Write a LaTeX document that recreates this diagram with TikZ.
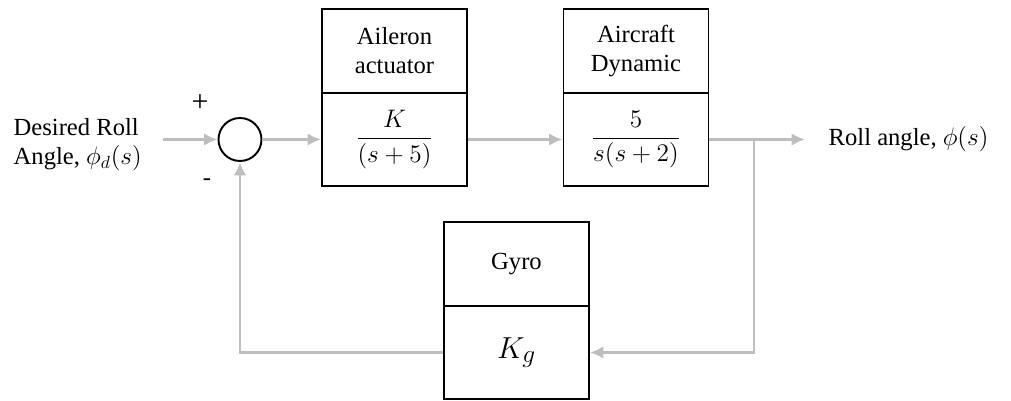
\documentclass[tikz,border=0pt]{standalone}
\usepackage{amsmath}
\usepackage{fontspec}
\setmainfont{Liberation Serif}
\usetikzlibrary{arrows.meta,positioning}
\definecolor{linegray}{RGB}{190,190,190}
\tikzset{
  every node/.style={font=\fontsize{14}{16.5}\selectfont},
  namebox/.style={draw, line width=1.1pt, minimum width=2.9cm, minimum height=1.68cm, align=center, inner sep=0pt},
  tfbox/.style={draw, line width=1.1pt, minimum width=2.9cm, minimum height=1.86cm, inner sep=0pt},
  sumnode/.style={draw, circle, line width=1.1pt, minimum size=0.86cm, inner sep=0pt},
  signal/.style={draw=linegray, line width=1.7pt, -{Latex[length=0.27cm,width=0.25cm]}},
}
\begin{document}
\begin{tikzpicture}
\useasboundingbox (0,0) rectangle (20.22,8.02);

% Forward path blocks
\node[namebox] (ail) at (7.89,7.0) {Aileron\\actuator};
\node[tfbox, below=-1.1pt of ail] (ailtf) {$\dfrac{K}{(s+5)}$};
\node[namebox] (air) at (12.72,7.0) {Aircraft\\Dynamic};
\node[tfbox, below=-1.1pt of air] (airtf) {$\dfrac{5}{s(s+2)}$};

% Feedback block
\node[namebox] (gyro) at (10.33,2.74) {Gyro};
\node[tfbox, below=-1.1pt of gyro] (gyrotf) {\fontsize{19}{22}\selectfont$K_g$};

% Summing junction
\node[sumnode] (sum) at (4.8,0 |- ailtf.west) {};
\node[font=\fontsize{17}{20}\selectfont] (plus) at (4.0,5.96) {+};
\node (minus) at (4.14,4.38) {-};

% Input and output
\node[anchor=west, align=left] (des) at (0.15,5.12) {Desired Roll\\Angle, $\phi_d(s)$};
\node[anchor=west] (roll) at (16.45,0 |- ailtf.west) {Roll angle, $\phi(s)$};
\coordinate (in) at (3.26,0 |- ailtf.west);
\coordinate (branch) at (15.08,0 |- ailtf.west);
\coordinate (out) at (16.1,0 |- ailtf.west);

% Signals
\draw[signal] (in) -- (sum.west);
\draw[signal] (sum.east) -- (ailtf.west);
\draw[signal] (ailtf.east) -- (airtf.west);
\draw[signal] (airtf.east) -- (out);
\draw[signal] (branch) |- (gyrotf.east);
\draw[signal] (gyrotf.west) -| (sum.south);
\end{tikzpicture}
\end{document}
